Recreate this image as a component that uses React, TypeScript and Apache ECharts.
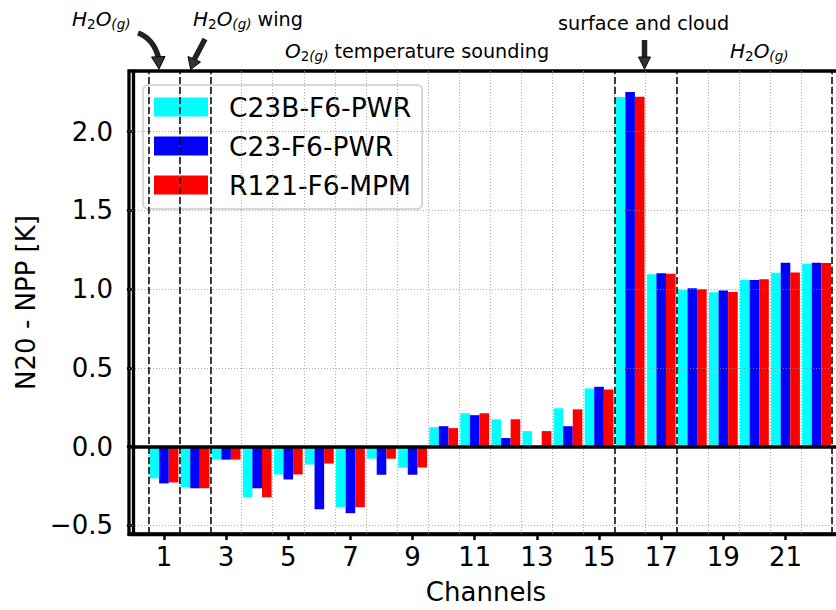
import React, { useEffect, useRef } from "react";
import * as echarts from "echarts";

const channels = [1, 2, 3, 4, 5, 6, 7, 8, 9, 10, 11, 12, 13, 14, 15, 16, 17, 18, 19, 20, 21, 22];
const seriesNames = ["C23B-F6-PWR", "C23-F6-PWR", "R121-F6-MPM"];
const seriesColors = ["#00ffff", "#0000ff", "#ff0000"];
const c23bF6Pwr = [-0.2, -0.258, -0.082, -0.321, -0.176, -0.113, -0.384, -0.076, -0.132, 0.124, 0.212, 0.174, 0.099, 0.244, 0.37, 2.219, 1.094, 0.995, 0.98, 1.058, 1.104, 1.161];
const c23F6Pwr = [-0.233, -0.264, -0.082, -0.264, -0.208, -0.397, -0.422, -0.178, -0.178, 0.13, 0.2, 0.055, 0.0, 0.13, 0.38, 2.251, 1.1, 1.006, 0.991, 1.058, 1.167, 1.167];
const r121F6Mpm = [-0.227, -0.264, -0.082, -0.321, -0.176, -0.107, -0.384, -0.076, -0.132, 0.118, 0.212, 0.174, 0.099, 0.237, 0.363, 2.221, 1.098, 0.999, 0.982, 1.062, 1.106, 1.165];
const xTicks = [1, 3, 5, 7, 9, 11, 13, 15, 17, 19, 21];
const yTicks = [-0.5, 0, 0.5, 1, 1.5, 2];
const bandEdges = [0.5, 1.5, 2.5, 15.5, 17.5, 22.5];
const gridEdges = [0, ...channels].map((c) => c + 0.5);

const FONT = "DejaVu Sans";

const mathRich: any = {
  m: { fontFamily: FONT, fontStyle: "italic", fontSize: 20, lineHeight: 24, verticalAlign: "middle", fill: "#000" },
  t: { fontFamily: FONT, fontStyle: "normal", fontSize: 19.2, lineHeight: 24, verticalAlign: "middle", fill: "#000" },
  d: { fontFamily: FONT, fontStyle: "normal", fontSize: 13.5, lineHeight: 13, verticalAlign: "bottom", fill: "#000" },
  s: { fontFamily: FONT, fontStyle: "italic", fontSize: 13.5, lineHeight: 13, verticalAlign: "bottom", fill: "#000" },
};

function annot(text: string, x: number, y: number) {
  return {
    type: "text",
    x,
    y,
    z: 100,
    style: { text, rich: mathRich, align: "left", verticalAlign: "middle", fill: "#000", font: `20px "${FONT}"` },
  };
}

export default function App() {
  const ref = useRef<HTMLDivElement>(null);
  useEffect(() => {
    if (!ref.current) return;
    const chart = echarts.init(ref.current, undefined, { renderer: "svg" });
    const values = [c23bF6Pwr, c23F6Pwr, r121F6Mpm];
    const dotted = { type: [1, 2], color: "rgba(150,150,150,0.8)", width: 1 };
    const option: any = {
      animation: false,
      textStyle: { fontFamily: FONT },
      grid: {
        left: 129,
        top: 71,
        right: 0,
        bottom: 71,
        show: true,
        borderColor: "#000",
        borderWidth: 3.3,
        backgroundColor: "transparent",
      },
      legend: {
        data: seriesNames,
        orient: "vertical",
        left: 143,
        top: 85,
        padding: [7, 11, 9, 11],
        itemGap: 9,
        itemWidth: 54,
        itemHeight: 19,
        icon: "rect",
        selectedMode: false,
        backgroundColor: "rgba(255,255,255,0.85)",
        borderColor: "#cccccc",
        borderWidth: 1.5,
        borderRadius: 5,
        textStyle: { fontSize: 26.5, color: "#000", lineHeight: 30, fontFamily: FONT, padding: [0, 0, 0, 16] },
      },
      xAxis: {
        type: "value",
        min: -0.125,
        max: 22.85,
        axisLine: { show: true, onZero: false, lineStyle: { color: "#000", width: 3.3 } },
        axisTick: { show: true, customValues: xTicks, length: 6, lineStyle: { color: "#000", width: 2.5 } },
        axisLabel: { customValues: xTicks, fontSize: 26, color: "#000", margin: 10, fontFamily: FONT },
        splitLine: { show: false },
        name: "Channels",
        nameLocation: "middle",
        nameGap: 45,
        nameTextStyle: { fontSize: 26, color: "#000", fontFamily: FONT },
      },
      yAxis: {
        type: "value",
        min: -0.554,
        max: 2.384,
        axisLine: { show: true, lineStyle: { color: "#000", width: 3.3 } },
        axisTick: { show: true, customValues: yTicks, length: 6, lineStyle: { color: "#000", width: 2.5 } },
        axisLabel: {
          customValues: yTicks,
          fontSize: 26,
          color: "#000",
          margin: 16,
          fontFamily: FONT,
          formatter: (v: number) => (v < 0 ? "\u2212" + Math.abs(v).toFixed(1) : v.toFixed(1)),
        },
        splitLine: { show: false },
        name: "N20 - NPP [K]",
        nameLocation: "middle",
        nameGap: 86,
        nameTextStyle: { fontSize: 26, color: "#000", fontFamily: FONT },
      },
      series: seriesNames.map((name, si) => ({
        type: "bar",
        name,
        data: channels.map((c, i) => [c, values[si][i]]),
        barWidth: 9.6,
        barGap: "0%",
        itemStyle: { color: seriesColors[si] },
        markLine:
          si === 1
            ? {
                symbol: "none",
                silent: true,
                label: { show: false },
                z: 5,
                data: [
                  ...gridEdges.map((x) => ({ xAxis: x, lineStyle: dotted })),
                  ...yTicks.map((y) => ({ yAxis: y, lineStyle: dotted })),
                  ...bandEdges.map((x) => ({ xAxis: x, lineStyle: { type: [7, 3], color: "#000", width: 1.5 } })),
                  { yAxis: 0, lineStyle: { type: "solid", color: "#000", width: 3.5 } },
                ],
              }
            : undefined,
      })),
      graphic: [
        annot("{m|H}{d|2}{m|O}{s|(g)}", 72, 19),
        annot("{m|H}{d|2}{m|O}{s|(g)}{t| wing}", 193, 19),
        annot("{m|O}{d|2}{s|(g)}{t| temperature sounding}", 285, 51),
        annot("{t|surface and cloud}", 558, 23),
        annot("{m|H}{d|2}{m|O}{s|(g)}", 730, 51),
        {
          type: "bezierCurve",
          z: 100,
          shape: { x1: 138, y1: 33, cpx1: 154, cpy1: 39, x2: 158.5, y2: 58 },
          style: { stroke: "#222", lineWidth: 5.5, fill: null },
        },
        {
          type: "polygon",
          z: 100,
          shape: { points: [[151.5, 57], [165, 56.5], [159, 69]] },
          style: { fill: "#333", stroke: "#000", lineWidth: 1 },
        },
        {
          type: "line",
          z: 100,
          shape: { x1: 205, y1: 39, x2: 194.5, y2: 59 },
          style: { stroke: "#222", lineWidth: 5.5 },
        },
        {
          type: "polygon",
          z: 100,
          shape: { points: [[188, 56.5], [200.5, 62], [190.7, 69.5]] },
          style: { fill: "#333", stroke: "#000", lineWidth: 1 },
        },
        {
          type: "line",
          z: 100,
          shape: { x1: 644.5, y1: 40, x2: 644.5, y2: 58 },
          style: { stroke: "#222", lineWidth: 5.5 },
        },
        {
          type: "polygon",
          z: 100,
          shape: { points: [[638.5, 57], [650.5, 57], [644.5, 69]] },
          style: { fill: "#333", stroke: "#000", lineWidth: 1 },
        },
      ],
    };
    chart.setOption(option);
    return () => chart.dispose();
  }, []);
  return (
    <div style={{ position: "fixed", left: 0, top: 0, width: 836, height: 610, overflow: "hidden", background: "#fff" }}>
      <div ref={ref} style={{ width: 843, height: 610 }} />
    </div>
  );
}
